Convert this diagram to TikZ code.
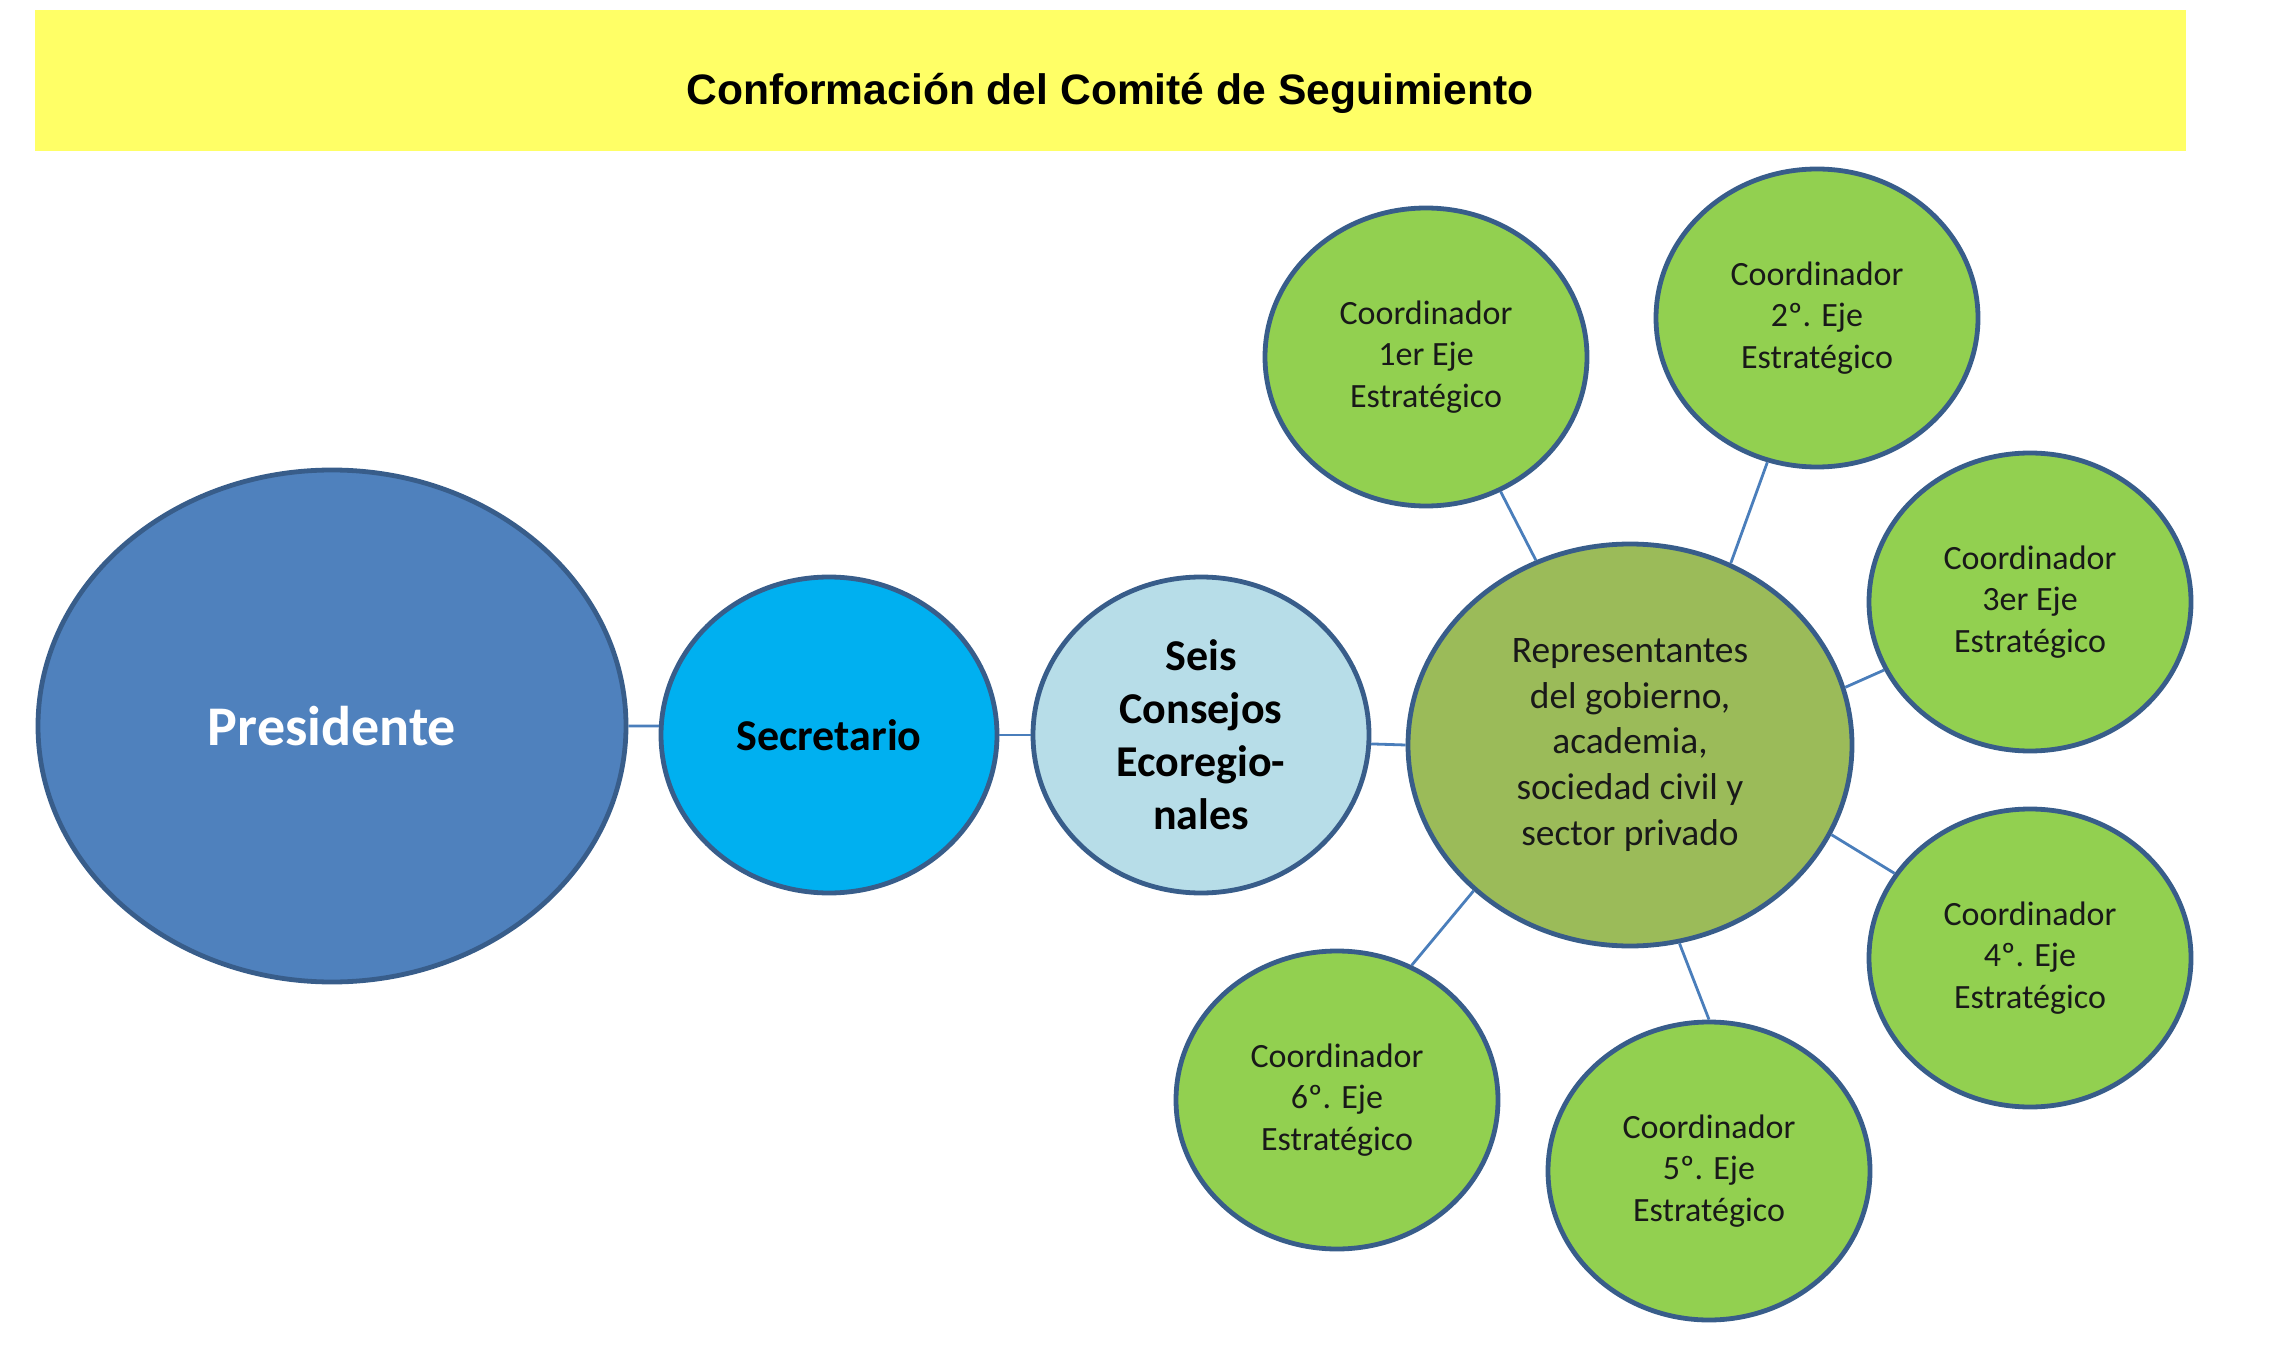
\documentclass[tikz,border=0pt]{standalone}
\usepackage{fontspec}
\setmainfont{Carlito}
\newfontfamily\titlefont{Liberation Sans}
\usetikzlibrary{shapes.geometric}
\definecolor{bandyellow}{HTML}{FFFF66}
\definecolor{presblue}{HTML}{4F81BD}
\definecolor{edgeblue}{HTML}{385D8A}
\definecolor{secblue}{HTML}{00B0F0}
\definecolor{seisblue}{HTML}{B7DDE8}
\definecolor{repgreen}{HTML}{9BBB59}
\definecolor{coordgreen}{HTML}{92D050}
\definecolor{linkblue}{HTML}{4A7EBB}
\tikzset{
  bubble/.style={ellipse, draw=edgeblue, line width=2.4pt, inner sep=0pt, align=center},
  coordbubble/.style={bubble, fill=coordgreen, minimum width=161pt, minimum height=149pt,
     font=\fontsize{17}{20.8}\selectfont, text=black!90},
  link/.style={draw=linkblue, line width=1.4pt}
}
\begin{document}
\begin{tikzpicture}[x=0.5pt,y=-0.5pt]
\useasboundingbox (0,0) rectangle (2296,1363);
\fill[bandyellow] (35,10) rectangle (2186,151);
\node[anchor=base, font=\titlefont\bfseries\fontsize{21.3}{25}\selectfont] (title) at (1110,105) {Conformación del Comité de Seguimiento};

\node[bubble, fill=presblue, minimum width=294pt, minimum height=256pt, text=white,
      font=\bfseries\fontsize{28}{34}\selectfont] (pres) at (332,726) {Presidente};
\node[bubble, fill=secblue, minimum width=168pt, minimum height=158pt,
      font=\bfseries\fontsize{22}{26.5}\selectfont] (sec) at (829,735) {Secretario};
\node[bubble, fill=seisblue, minimum width=168pt, minimum height=158pt,
      font=\bfseries\fontsize{22}{26.5}\selectfont] (seis) at (1201,735) {Seis\\Consejos\\Ecoregio-\\nales};
\node[bubble, fill=repgreen, minimum width=222pt, minimum height=201pt,
      font=\fontsize{18.7}{22.8}\selectfont, text=black!90] (rep) at (1630,745)
      {Representantes\\del gobierno,\\academia,\\sociedad civil y\\sector privado};

\node[coordbubble] (c1) at (1426,357) {Coordinador\\1er Eje\\Estratégico};
\node[coordbubble] (c2) at (1817,318) {Coordinador\\2º. Eje\\Estratégico};
\node[coordbubble] (c3) at (2030,602) {Coordinador\\3er Eje\\Estratégico};
\node[coordbubble] (c4) at (2030,958) {Coordinador\\4º. Eje\\Estratégico};
\node[coordbubble] (c5) at (1709,1171) {Coordinador\\5º. Eje\\Estratégico};
\node[coordbubble] (c6) at (1337,1100) {Coordinador\\6º. Eje\\Estratégico};

\draw[link] (pres.east) -- (sec.177);
\draw[link] (sec.east) -- (seis.west);
\draw[link] (seis.-3) -- (rep.west);
\draw[link] (c1.-61.5) -- (rep.117.8);
\draw[link] (c2.-109.6) -- (rep.61.8);
\draw[link] (c3.-155.8) -- (rep.15);
\draw[link] (c4.148.2) -- (rep.-24.6);
\draw[link] (c5.90) -- (rep.-76.2);
\draw[link] (c6.61.5) -- (rep.-137.2);
\end{tikzpicture}
\end{document}
